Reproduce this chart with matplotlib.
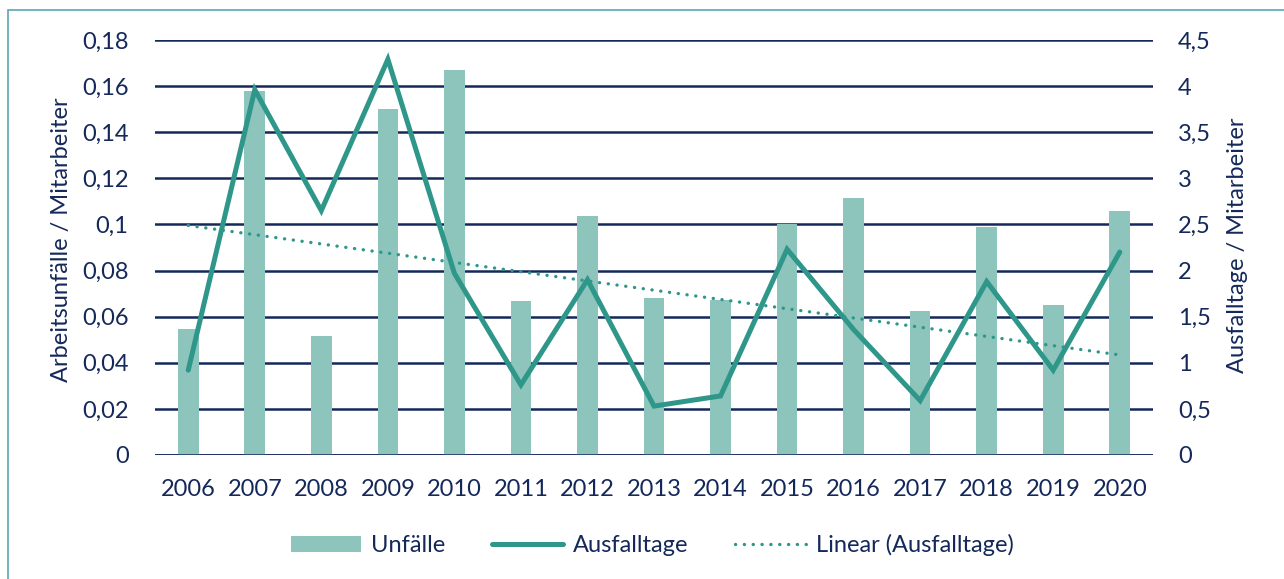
import matplotlib
matplotlib.use('Agg')
import matplotlib.pyplot as plt
import numpy as np
from matplotlib.patches import Rectangle

plt.rcParams['font.family'] = ['Lato', 'DejaVu Sans']

# data
years = ['2006', '2007', '2008', '2009', '2010', '2011', '2012', '2013',
         '2014', '2015', '2016', '2017', '2018', '2019', '2020']
unfaelle = [0.0547, 0.158, 0.0516, 0.150, 0.167, 0.0668, 0.1037, 0.068,
            0.067, 0.100, 0.1115, 0.0625, 0.0989, 0.065, 0.1058]
ausfalltage = [0.92, 3.96, 2.65, 4.29, 1.97, 0.76, 1.90, 0.53,
               0.64, 2.23, 1.36, 0.59, 1.88, 0.92, 2.20]
left_ticks = [0, 0.02, 0.04, 0.06, 0.08, 0.1, 0.12, 0.14, 0.16, 0.18]
right_ticks = [0, 0.5, 1, 1.5, 2, 2.5, 3, 3.5, 4, 4.5]

C_BAR = '#8DC4BB'
C_LINE = '#2E978A'
C_NAVY = '#14285A'
C_FRAME = '#5AA7B2'
FS = 17

fig = plt.figure(figsize=(12.84, 5.79), dpi=100)
ax = fig.add_axes([0.1207, 0.2142, 0.7773, 0.7168])
ax2 = ax.twinx()

x = np.arange(len(years))
ax.bar(x, unfaelle, width=0.31, color=C_BAR, zorder=2, label='Unfälle')
ax.set_ylim(0, 0.18)
ax.set_xlim(-0.5, len(years) - 0.5)
ax.set_yticks(left_ticks)
ax.set_yticklabels([('%g' % t).replace('.', ',') for t in left_ticks])
ax.set_xticks(x)
ax.set_xticklabels(years)
ax.grid(axis='y', color=C_NAVY, lw=1.8, zorder=0)
ax.set_axisbelow(True)

ax2.plot(x, ausfalltage, color=C_LINE, lw=3.6, solid_joinstyle='miter',
         solid_capstyle='round', zorder=4, label='Ausfalltage')
k, d = np.polyfit(x, ausfalltage, 1)
ax2.plot(x, k * x + d, color=C_LINE, lw=2.4, linestyle=(0, (0.05, 2.6)),
         dash_capstyle='round', zorder=3, label='Linear (Ausfalltage)')
ax2.set_ylim(0, 4.5)
ax2.set_yticks(right_ticks)
ax2.set_yticklabels([('%g' % t).replace('.', ',') for t in right_ticks])

for a in (ax, ax2):
    for s in a.spines.values():
        s.set_visible(False)
    a.tick_params(length=0, labelsize=FS, labelcolor=C_NAVY)
ax.tick_params(axis='y', pad=19)
ax.tick_params(axis='x', pad=17)
ax2.tick_params(axis='y', pad=18)
ax.axhline(0, color=C_NAVY, lw=1.8, zorder=3)

fig.text(62 / 1284, 1 - 240 / 579, 'Arbeitsunfälle / Mitarbeiter',
         rotation=90, ha='center', va='center', fontsize=FS, color=C_NAVY)
fig.text(1238 / 1284, 1 - 245 / 579, 'Ausfalltage / Mitarbeiter',
         rotation=90, ha='center', va='center', fontsize=FS, color=C_NAVY)

h1, l1 = ax.get_legend_handles_labels()
h2, l2 = ax2.get_legend_handles_labels()
leg = fig.legend(h1 + h2, l1 + l2, ncol=3, loc='center',
                 bbox_to_anchor=(652 / 1284, 1 - 545 / 579), frameon=False,
                 fontsize=FS, handlelength=3.0, handleheight=0.7,
                 handletextpad=0.4, columnspacing=2.0)
for t in leg.get_texts():
    t.set_color(C_NAVY)

# outer chart frame
fig.patches.append(Rectangle((8 / 1284, -0.1), 1.2, 1 - 10 / 579 + 0.1,
                             transform=fig.transFigure, fill=False,
                             edgecolor=C_FRAME, lw=1.2))

fig.savefig('out.png', dpi=100)
